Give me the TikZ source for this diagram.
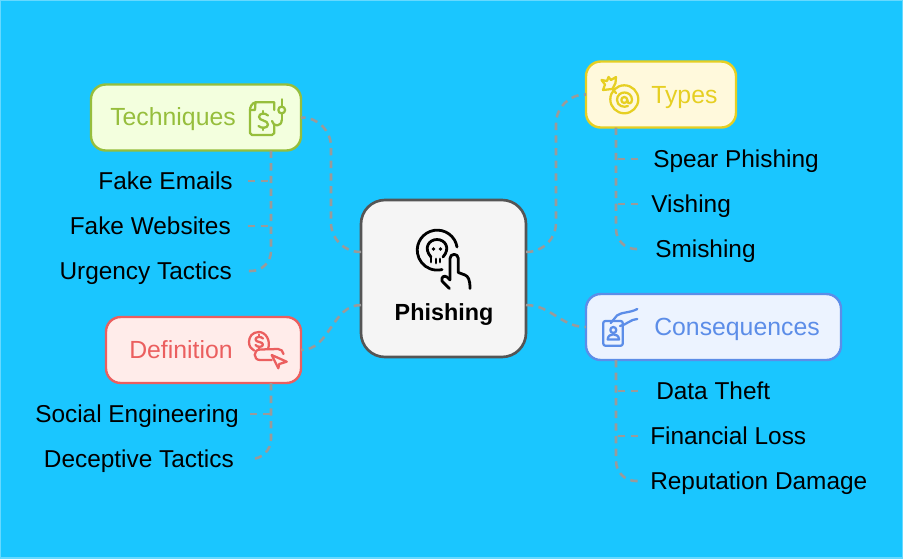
\documentclass[tikz,border=0pt]{standalone}
\usepackage{fontspec}
\setmainfont{Liberation Sans}
\usetikzlibrary{positioning}
\definecolor{skyback}{HTML}{1AC6FF}
\definecolor{skyedge}{HTML}{66D9FF}
\definecolor{linkgray}{HTML}{9A9A9A}
\definecolor{hubline}{HTML}{555555}
\definecolor{hubfill}{HTML}{F5F5F5}
\definecolor{greenline}{HTML}{96BE3C}
\definecolor{greenfill}{HTML}{F3FFDE}
\definecolor{yellowline}{HTML}{E6CF22}
\definecolor{yellowfill}{HTML}{FFF9DC}
\definecolor{blueline}{HTML}{5C8DE8}
\definecolor{bluefill}{HTML}{ECF3FF}
\definecolor{redline}{HTML}{EB5F5F}
\definecolor{redfill}{HTML}{FFECEA}

\begin{document}
\begin{tikzpicture}[x=0.75pt, y=-0.75pt,
    branch/.style={draw, rectangle, rounded corners=11pt, line width=1.8pt, inner sep=0pt, outer sep=0pt, minimum height=49.5pt},
    words/.style={inner ysep=0pt, inner xsep=0pt, text height=13.5pt, text depth=1.5pt, font=\fontsize{18.3}{20}\selectfont},
    title/.style={words, anchor=west, font=\fontsize{18.6}{20}\selectfont},
    link/.style={draw=linkgray, line width=1.9pt, dash pattern=on 5.5pt off 4pt},
    icon/.style={line width=1.7pt, line cap=round, line join=round}]
  \useasboundingbox (0,0) rectangle (903,558);
  \fill [skyback, draw=skyedge, line width=1.5pt] (0,0) rectangle (903,558);

  % nodes
  \node [draw=hubline, fill=hubfill, rectangle, rounded corners=18pt, line width=2pt, outer sep=0pt, minimum width=123.75pt, minimum height=117.75pt] (phishing) at (443.5,278.5) {};
  \node [words, font=\fontsize{17.5}{20}\selectfont\bfseries, text=black] (phishing_title) at (444,312.5) {Phishing};

  \node [branch, draw=greenline, fill=greenfill, minimum width=157.5pt] (techniques) at (196,117.5) {};
  \node [title, text=greenline] (techniques_title) at (110,117) {Techniques};
  \node [branch, draw=yellowline, fill=yellowfill, minimum width=112.5pt] (types) at (661,94.5) {};
  \node [title, text=yellowline] (types_title) at (651,95) {Types};
  \node [branch, draw=blueline, fill=bluefill, minimum width=191.25pt] (consequences) at (713.5,327) {};
  \node [title, text=blueline] (consequences_title) at (654,327) {Consequences};
  \node [branch, draw=redline, fill=redfill, minimum width=146.25pt] (definition) at (203.5,350) {};
  \node [title, text=redline] (definition_title) at (129,350) {Definition};

  % leaves
  \node [words, anchor=east, inner xsep=11.25pt] (fake_emails) at (248,181) {Fake Emails};
  \node [words, anchor=east, inner xsep=12.75pt] (fake_websites) at (248,226) {Fake Websites};
  \node [words, anchor=east, inner xsep=12pt] (urgency) at (248,271) {Urgency Tactics};
  \node [words, anchor=east, inner xsep=8.25pt] (social) at (250,414) {Social Engineering};
  \node [words, anchor=east, inner xsep=12pt] (deceptive) at (250,459) {Deceptive Tactics};
  \node [words, anchor=west, inner xsep=11.25pt] (spear) at (638,159) {Spear Phishing};
  \node [words, anchor=west, inner xsep=9.75pt] (vishing) at (638,204) {Vishing};
  \node [words, anchor=west, inner xsep=12.75pt] (smishing) at (638,249) {Smishing};
  \node [words, anchor=west, inner xsep=13.5pt] (data_theft) at (638,391) {Data Theft};
  \node [words, anchor=west, inner xsep=9pt] (financial) at (638,436) {Financial Loss};
  \node [words, anchor=west, inner xsep=9pt] (reputation) at (638,481) {Reputation Damage};

  % edges
  \draw [link, rounded corners=22pt] ([yshift=19.9pt]phishing.west) -- ++(-30,0) |- (techniques.east);
  \draw [link, rounded corners=22pt] ([yshift=19.9pt]phishing.east) -- ++(30,0) |- (types.west);
  \draw [link] ([yshift=-19.9pt]phishing.east) to [out=0, in=180] (consequences.west);
  \draw [link] ([yshift=-19.9pt]phishing.west) to [out=180, in=0] (definition.east);

  \draw [link, rounded corners=15pt] ([xshift=-22.5pt]techniques.south east) |- (urgency.east);
  \draw [link] (fake_emails.east) -- ([xshift=-22.5pt]techniques.south east |- fake_emails.east);
  \draw [link] (fake_websites.east) -- ([xshift=-22.5pt]techniques.south east |- fake_websites.east);
  \draw [link, rounded corners=15pt] ([xshift=-22.5pt]definition.south east) |- (deceptive.east);
  \draw [link] (social.east) -- ([xshift=-22.5pt]definition.south east |- social.east);
  \draw [link, rounded corners=15pt] ([xshift=22.5pt]types.south west) |- (smishing.west);
  \draw [link] (spear.west) -- ([xshift=22.5pt]types.south west |- spear.west);
  \draw [link] (vishing.west) -- ([xshift=22.5pt]types.south west |- vishing.west);
  \draw [link, rounded corners=15pt] ([xshift=22.5pt]consequences.south west) |- (reputation.west);
  \draw [link] (data_theft.west) -- ([xshift=22.5pt]consequences.south west |- data_theft.west);
  \draw [link] (financial.west) -- ([xshift=22.5pt]consequences.south west |- financial.west);

  % icons
  \begin{scope}[icon, line width=2.1pt, draw=black]
    \draw (457,247) arc (-9:-284:20);
    \draw (431,257) .. controls (423,248) and (429,239.5) .. (437,239.5) .. controls (445,239.5) and (451,248) .. (443,257);
    \draw (431,257) -- (431,262) (436,259) -- (436,263) (440,259) -- (440,262);
    \fill (433.5,249) circle (1.9) (440.5,249) circle (1.9);
    \draw (450,280) -- (450,258.5) .. controls (450,253) and (458.3,253) .. (458.3,258.5) -- (458.3,272.5) -- (465,275) .. controls (468,276.5) and (470,279) .. (470,288.5);
    \draw (449.3,288.5) -- (442,281) .. controls (441,277) and (444,275) .. (447,277) -- (450,280);
  \end{scope}
  \begin{scope}[icon, draw=greenline]
    \draw (274.3,110) -- (274.3,102.3) -- (255.5,102.3) .. controls (252,103) and (250,107) .. (250,110) -- (250,133) -- (252,135) -- (272,135) -- (274.3,133) -- (274.3,125);
    \draw (250,110) -- (255,110) -- (255.5,102.3);
    \draw (268,115.5) .. controls (265,112.5) and (259,113) .. (259,117) .. controls (259,121) and (268,120) .. (268,124.5) .. controls (268,128.5) and (261,128.5) .. (258.5,126);
    \draw (263.3,111) -- (263.3,113) (263.3,128) -- (263.3,130);
    \draw (281.7,99.3) -- (281.7,106.5) (281.7,113.5) -- (281.7,120);
    \draw (281.7,110) circle (3.4);
    \draw (281.7,120) .. controls (281.7,127) and (273,127) .. (272,121);
  \end{scope}
  \begin{scope}[icon, draw=yellowline]
    \draw (624.3,99.3) circle (14);
    \draw (624.3,100) circle (3);
    \draw (627.3,100) .. controls (627.3,105) and (632,104) .. (632,100) .. controls (632,90) and (617,90) .. (617,100) .. controls (617,106) and (624,108) .. (628,106);
    \draw (612,89) -- (603,90) -- (605,84.5) -- (601.5,80) -- (607,81) -- (608.5,77) -- (611,80) -- (616,77) -- (615.5,83) -- (612.5,89) -- (616,93);
  \end{scope}
  \begin{scope}[icon, draw=blueline]
    \draw [rounded corners=1.5pt] (603.3,321) rectangle (622.7,345.7);
    \draw (613.3,330) circle (3);
    \draw (607.7,339.5) .. controls (607.7,332.5) and (619,332.5) .. (619,339.5) -- cycle;
    \draw (610.7,323) -- (617,315.5) .. controls (621,312) and (630,313) .. (637.3,309);
    \draw (620,326) .. controls (626,325) and (631,319) .. (637.3,319);
  \end{scope}
  \begin{scope}[icon, draw=redline]
    \draw (268,349) .. controls (271,341) and (266,332) .. (259,332) .. controls (252,332) and (249,337) .. (249,342) .. controls (249,346) and (251,349) .. (254,350.5);
    \draw (263,338.5) .. controls (261,336) and (255.5,336.5) .. (255.5,339.5) .. controls (255.5,342.5) and (263,341.5) .. (263,344.5) .. controls (263,347.5) and (257,347.5) .. (255.5,345);
    \draw (259,334.5) -- (259,336) (259,347.5) -- (259,349);
    \draw (271.7,360) -- (260,360) .. controls (253,360) and (253,349.5) .. (260,349.5) -- (278,349) .. controls (281,349) and (283,351) .. (283.5,354);
    \draw (271.7,355) -- (286.7,361.7) -- (279.3,364) -- (278.3,368.3) -- cycle;
  \end{scope}
\end{tikzpicture}
\end{document}
